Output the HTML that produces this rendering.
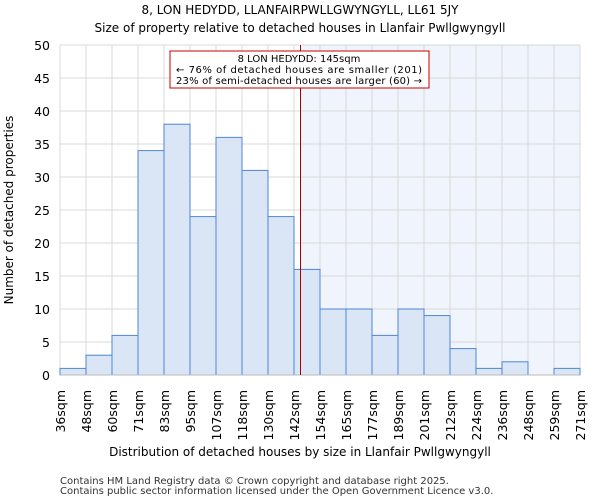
<!DOCTYPE html>
<html><head><meta charset="utf-8"><style>
body{margin:0;background:#fff;font-family:"DejaVu Sans","Liberation Sans",sans-serif}
</style></head><body>
<svg id="chart" width="600" height="500" xmlns="http://www.w3.org/2000/svg" font-family="DejaVu Sans, Liberation Sans, sans-serif">
<text x="300" y="14" text-anchor="middle" font-size="12">8, LON HEDYDD, LLANFAIRPWLLGWYNGYLL, LL61 5JY</text>
<text x="300" y="32" text-anchor="middle" font-size="12">Size of property relative to detached houses in Llanfair Pwllgwyngyll</text>
<g id="grid"></g><g id="bars"></g><g id="ticks"></g>
<text transform="translate(13,210) rotate(-90)" text-anchor="middle" font-size="12">Number of detached properties</text>
<text x="300" y="456" text-anchor="middle" font-size="12">Distribution of detached houses by size in Llanfair Pwllgwyngyll</text>
<text x="60" y="484" font-size="10" fill="#333">Contains HM Land Registry data © Crown copyright and database right 2025.</text>
<text x="60" y="494" font-size="10" fill="#333">Contains public sector information licensed under the Open Government Licence v3.0.</text>
</svg>
<script>
const categories=["36sqm","48sqm","60sqm","71sqm","83sqm","95sqm","107sqm","118sqm","130sqm","142sqm","154sqm","165sqm","177sqm","189sqm","201sqm","212sqm","224sqm","236sqm","248sqm","259sqm","271sqm"];
const counts=[1,3,6,34,38,24,36,31,24,16,10,10,6,10,9,4,1,2,0,1];
const yTicks=[0,5,10,15,20,25,30,35,40,45,50];
const propertyBinPos=[9,3/12];
const X0=60,X1=580,Y0=375,Y1=45,NS="http://www.w3.org/2000/svg";
const bw=(X1-X0)/counts.length;
const xs=i=>X0+i*bw, ys=v=>Y0-(v/50)*(Y0-Y1);
function mk(t,a,p){const e=document.createElementNS(NS,t);for(const k in a)e.setAttribute(k,a[k]);p.appendChild(e);return e;}
const grid=document.getElementById('grid'),bars=document.getElementById('bars'),ticks=document.getElementById('ticks');
const lx=xs(propertyBinPos[0]+propertyBinPos[1]);
const sh=mk('rect',{x:lx,y:Y1,width:X1-lx,height:Y0-Y1,fill:'#f0f4fc'},grid);


yTicks.forEach(v=>{
 const l=mk('line',{x1:X0,x2:X1,y1:ys(v),y2:ys(v),stroke:'#d8d8d8'},grid);
 
 
 const t=mk('text',{x:X0-10,y:ys(v)+5,'text-anchor':'end','font-size':12.5},ticks);t.textContent=v;
 
 
});
categories.forEach((c,i)=>{
 const x=xs(i);
 const l=mk('line',{x1:x,x2:x,y1:Y1,y2:Y0,stroke:'#d8d8d8'},grid);
 
 
 const t=mk('text',{transform:`translate(${x+5},390) rotate(-90)`,'text-anchor':'end','font-size':12.5},ticks);t.textContent=c;
 
 
});
counts.forEach((v,i)=>{
 if(v<=0)return;
 const r=mk('rect',{x:xs(i),y:ys(v),width:bw,height:Y0-ys(v),fill:'#dae5f5',stroke:'#4f86d4','stroke-width':1},bars);
 
 
});
const ax=mk('line',{x1:X0,x2:X1,y1:Y0,y2:Y0,stroke:'#bbb'},bars);


const pl=mk('line',{x1:lx,x2:lx,y1:Y1,y2:Y0,stroke:'#a00','stroke-width':1},bars);


const g=mk('g',{},bars);


mk('rect',{x:170,y:51,width:259,height:37,fill:'#fff',stroke:'#c00'},g);
[["8 LON HEDYDD: 145sqm",62],["← 76% of detached houses are smaller (201)",73],["23% of semi-detached houses are larger (60) →",84]].forEach(([s,y])=>{
 const t=mk('text',{x:299,y:y,'text-anchor':'middle','font-size':10,textLength:s.length>30?246:0},g);
 if(s.length<=30)t.removeAttribute('textLength');
 t.textContent=s;
 
 
});
</script>
</body></html>
